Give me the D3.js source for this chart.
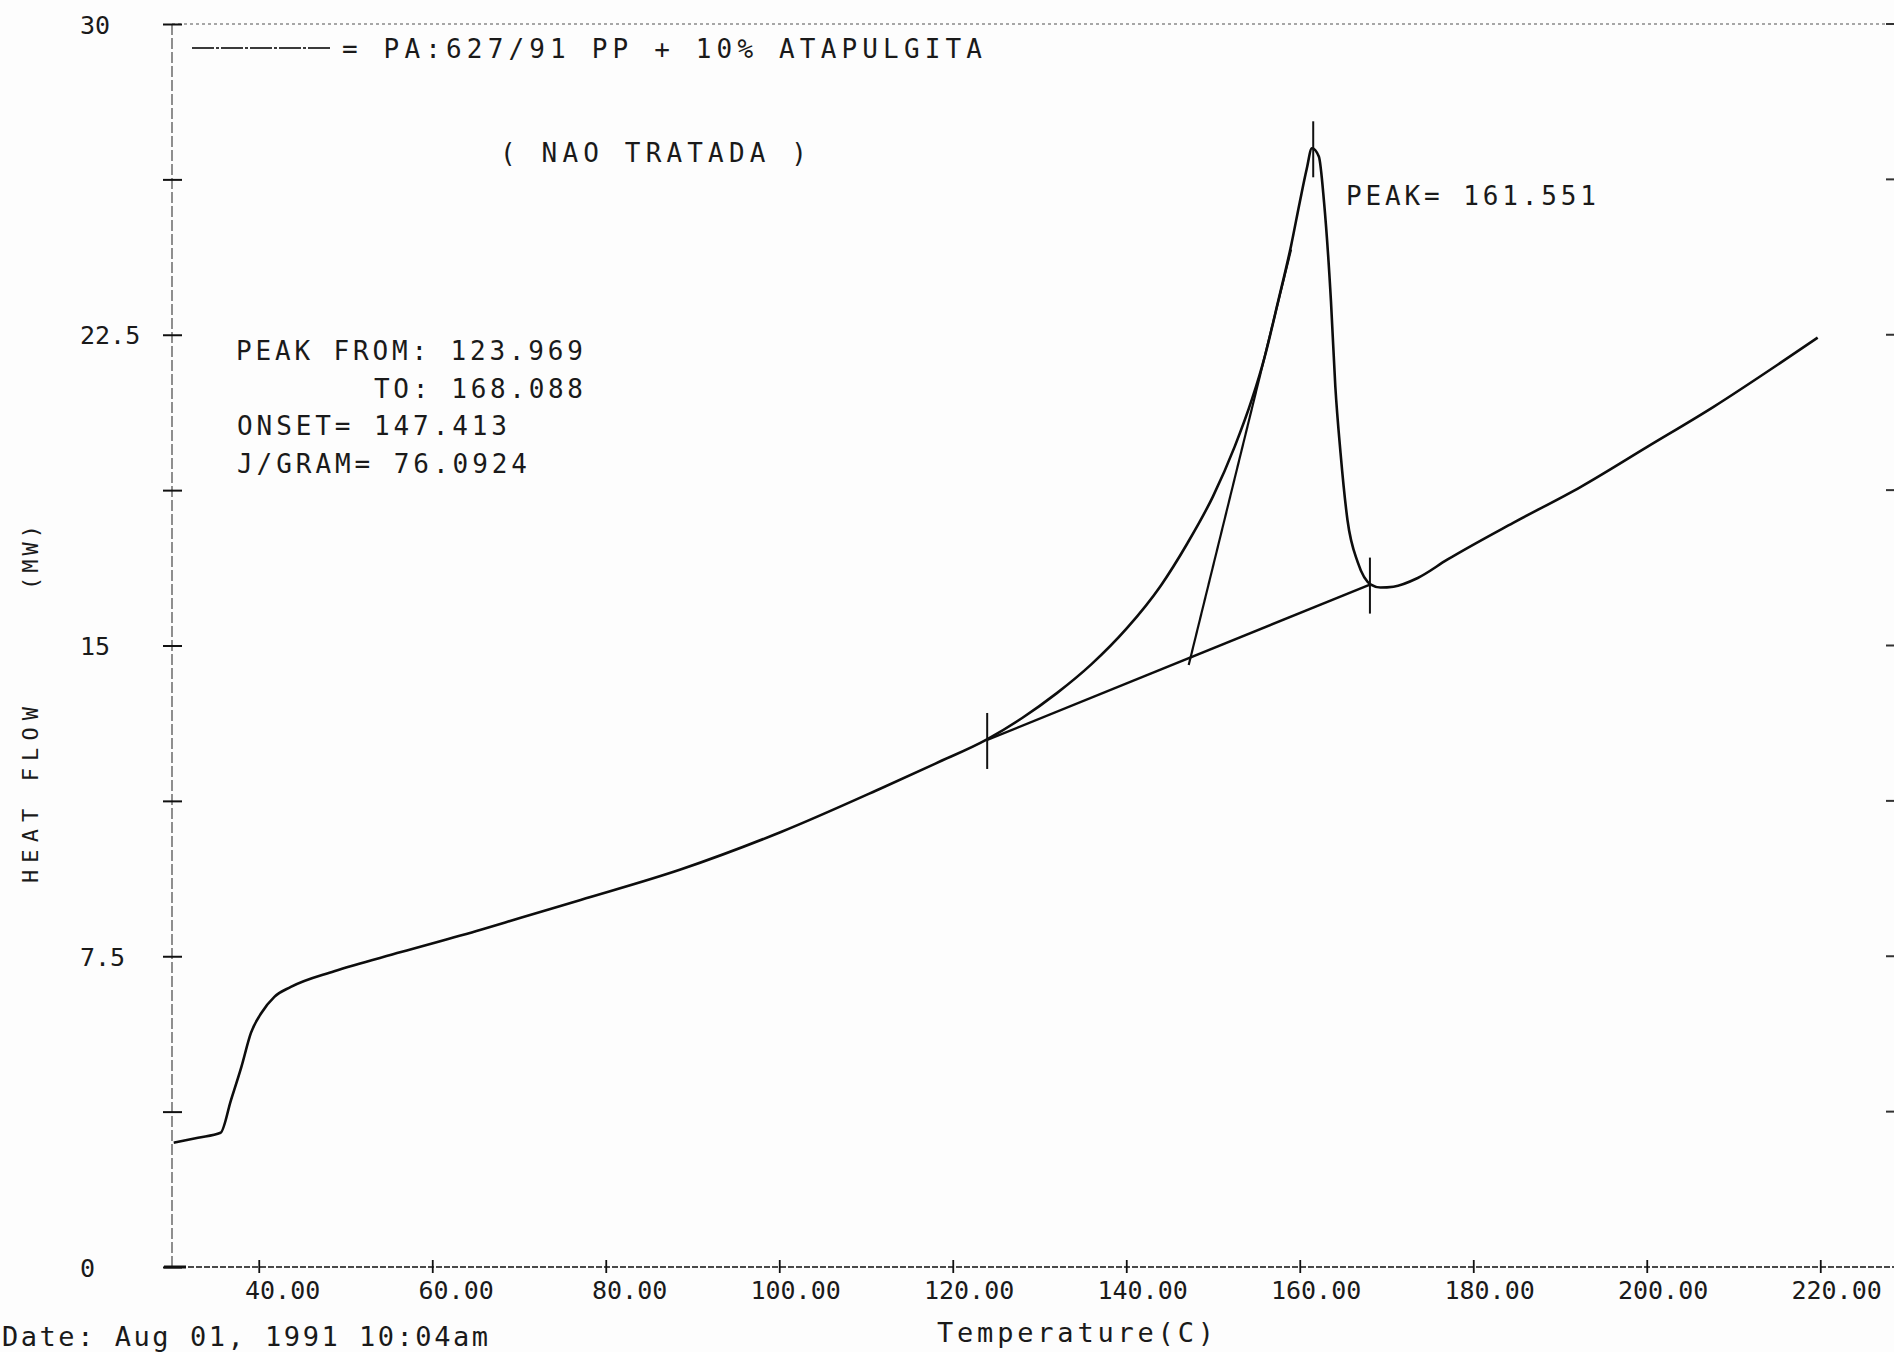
<!DOCTYPE html>
<html>
<head>
<meta charset="utf-8">
<script src="https://cdn.jsdelivr.net/npm/d3@7"></script>
<style>
  html, body { margin: 0; padding: 0; background: #fdfdfd; }
  svg { display: block; }
  text { font-family: "DejaVu Sans Mono", "Liberation Mono", monospace; fill: #1a1a1a; }
</style>
</head>
<body>
<svg id="chart" width="1894" height="1352"></svg>
<script>
// DSC trace, heat flow (mW) vs temperature (C)
const temps = [30.2, 33, 35.6, 36.8, 38, 39.1, 40.3, 41.8, 43.7, 48.7, 56.4, 65.6, 70.2, 77.1, 88.7,
    100.2, 111.7, 118, 124, 128, 132, 136, 140, 144, 147, 150, 152.5, 154.5, 156,
    157.5, 159, 160, 160.8, 161.4, 162.2, 162.8, 163.6, 164.1, 164.7, 165.5, 166.7, 168.2, 169.3,
    170.8, 173.6, 177, 184.6, 192.4, 200.1, 207.7, 215.4, 219.7];
const heatFlow = [3.0, 3.12, 3.24, 4.03, 4.83, 5.65, 6.13, 6.52, 6.76, 7.14, 7.6, 8.14, 8.43, 8.86, 9.6,
    10.5, 11.55, 12.15, 12.74, 13.25, 13.85, 14.55, 15.4, 16.45, 17.45, 18.6, 19.8, 20.95, 22.0,
    23.3, 24.65, 25.7, 26.5, 27.0, 26.8, 25.7, 23.3, 21.25, 19.65, 18.03, 17.0, 16.47, 16.4,
    16.42, 16.63, 17.07, 17.96, 18.83, 19.8, 20.76, 21.82, 22.43];

const xTicks = [40, 60, 80, 100, 120, 140, 160, 180, 200, 220];
const yTicks = [0, 3.75, 7.5, 11.25, 15, 18.75, 22.5, 26.25, 30];
const yLabels = [0, 7.5, 15, 22.5, 30];

// peak analysis results printed by the instrument
const peakFrom = 123.969;
const peakTo = 168.088;
const onsetT = 147.413;
const peakT = 161.551;
const jPerGram = '76.0924';
const baselineHF = [12.72, 16.47];     // heat flow at peakFrom / peakTo
const peakHF = 27.0;
const tangentT = [147.2, 159];
const tangentHF = [14.53, 24.56];

const legendText = '= PA:627/91 PP + 10% ATAPULGITA';
const subtitle = '( NAO TRATADA )';
const dateText = 'Date: Aug 01, 1991 10:04am';

const svg = d3.select('#chart');
const W = 1894;

const x = d3.scaleLinear().domain([30, 228.5]).range([172, 1894]);
const y = d3.scaleLinear().domain([0, 30]).range([1267, 24]);

// frame: top dotted border, left dashed axis, bottom dashed axis
svg.append('line')
    .attr('x1', x(30)).attr('x2', W).attr('y1', y(30)).attr('y2', y(30))
    .attr('stroke', '#8a8a8a').attr('stroke-width', 1.6).attr('stroke-dasharray', '3,3');
svg.append('line')
    .attr('x1', x(30)).attr('x2', x(30)).attr('y1', y(30)).attr('y2', y(0))
    .attr('stroke', '#555').attr('stroke-width', 1.3).attr('stroke-dasharray', '11,3');
svg.append('line')
    .attr('x1', x(30) - 8).attr('x2', W).attr('y1', y(0)).attr('y2', y(0))
    .attr('stroke', '#4a4a4a').attr('stroke-width', 1.8).attr('stroke-dasharray', '6,2');
svg.append('line')      // heavier stub where the axes meet
    .attr('x1', x(30) - 8).attr('x2', x(30) + 14).attr('y1', y(0)).attr('y2', y(0))
    .attr('stroke', '#111').attr('stroke-width', 3);

// left axis: cross ticks, labels on every other tick
const yAxis = svg.append('g')
    .attr('transform', `translate(${x(30)},0)`)
    .call(d3.axisLeft(y)
        .tickValues(yTicks)
        .tickSize(9)
        .tickFormat(d => yLabels.includes(d) ? String(d) : ''));
yAxis.select('.domain').remove();
yAxis.selectAll('.tick line')
    .attr('x1', -9).attr('x2', 10)
    .attr('stroke', '#111').attr('stroke-width', 2);
yAxis.selectAll('.tick text')
    .attr('x', -92).attr('dy', '0.36em')
    .attr('text-anchor', 'start')
    .style('font-size', '25px');

// right edge ticks
svg.append('g').selectAll('line')
    .data(yTicks.slice(1))
    .join('line')
    .attr('x1', W - 8).attr('x2', W)
    .attr('y1', d => y(d)).attr('y2', d => y(d))
    .attr('stroke', '#333').attr('stroke-width', 2);

// bottom axis
const xAxis = svg.append('g')
    .attr('transform', `translate(0,${y(0)})`)
    .call(d3.axisBottom(x)
        .tickValues(xTicks)
        .tickSize(6)
        .tickFormat(d3.format('.2f')));
xAxis.select('.domain').remove();
xAxis.selectAll('.tick line')
    .attr('y1', -7).attr('y2', 6)
    .attr('stroke', '#111').attr('stroke-width', 1.8);
xAxis.selectAll('.tick text')
    .attr('x', 61).attr('y', 32).attr('dy', 0)
    .attr('text-anchor', 'end')
    .style('font-size', '25px');

// main trace
const pts = temps.map((t, i) => [t, heatFlow[i]]);
const line = d3.line()
    .x(d => x(d[0]))
    .y(d => y(d[1]))
    .curve(d3.curveMonotoneX);
svg.append('path')
    .datum(pts)
    .attr('d', line)
    .attr('fill', 'none')
    .attr('stroke', '#0d0d0d')
    .attr('stroke-width', 2.6)
    .attr('stroke-linejoin', 'round');

// baseline and onset tangent
const straight = d3.line().x(d => x(d[0])).y(d => y(d[1]));
svg.append('path')
    .datum([[peakFrom, baselineHF[0]], [peakTo, baselineHF[1]]])
    .attr('d', straight)
    .attr('fill', 'none').attr('stroke', '#0d0d0d').attr('stroke-width', 2.4);
svg.append('path')
    .datum([[tangentT[0], tangentHF[0]], [tangentT[1], tangentHF[1]]])
    .attr('d', straight)
    .attr('fill', 'none').attr('stroke', '#0d0d0d').attr('stroke-width', 2.2);

// limit / peak markers
const markers = [[peakFrom, baselineHF[0]], [peakTo, baselineHF[1]], [peakT, peakHF]];
svg.append('g').selectAll('line')
    .data(markers)
    .join('line')
    .attr('x1', d => x(d[0])).attr('x2', d => x(d[0]))
    .attr('y1', d => y(d[1]) - 27).attr('y2', d => y(d[1]) + 29)
    .attr('stroke', '#111').attr('stroke-width', 2);

// legend sample + title lines
svg.append('line')
    .attr('x1', 192).attr('x2', 330).attr('y1', 48).attr('y2', 48)
    .attr('stroke', '#3a3a3a').attr('stroke-width', 2).attr('stroke-dasharray', '22,2,3,2');

function label(txt, px, py, len, size) {
    const t = svg.append('text')
        .attr('x', px).attr('y', py)
        .style('font-size', (size || 26) + 'px')
        .text(txt);
    if (len) t.attr('textLength', len).attr('lengthAdjust', 'spacing');
    return t;
}

label(legendText, 342, 58, 640);
label(subtitle, 500, 162, 307);
label('PEAK FROM: ' + peakFrom.toFixed(3), 236, 360, 347);
label('TO: ' + peakTo.toFixed(3), 374, 398, 209);
label('ONSET= ' + onsetT.toFixed(3), 237, 435, 270);
label('J/GRAM= ' + jPerGram, 237, 473, 290);
label('PEAK= ' + peakT.toFixed(3), 1346, 205, 250);

label(dateText, 2, 1346, 486, 27);
label('Temperature(C)', 937, 1342, 277, 27);

// y axis title (rotated)
label('HEAT FLOW', 0, 0, 176, 22)
    .attr('transform', 'translate(38,883) rotate(-90)');
label('(MW)', 0, 0, 65, 22)
    .attr('transform', 'translate(38,590) rotate(-90)');
</script>
</body>
</html>
